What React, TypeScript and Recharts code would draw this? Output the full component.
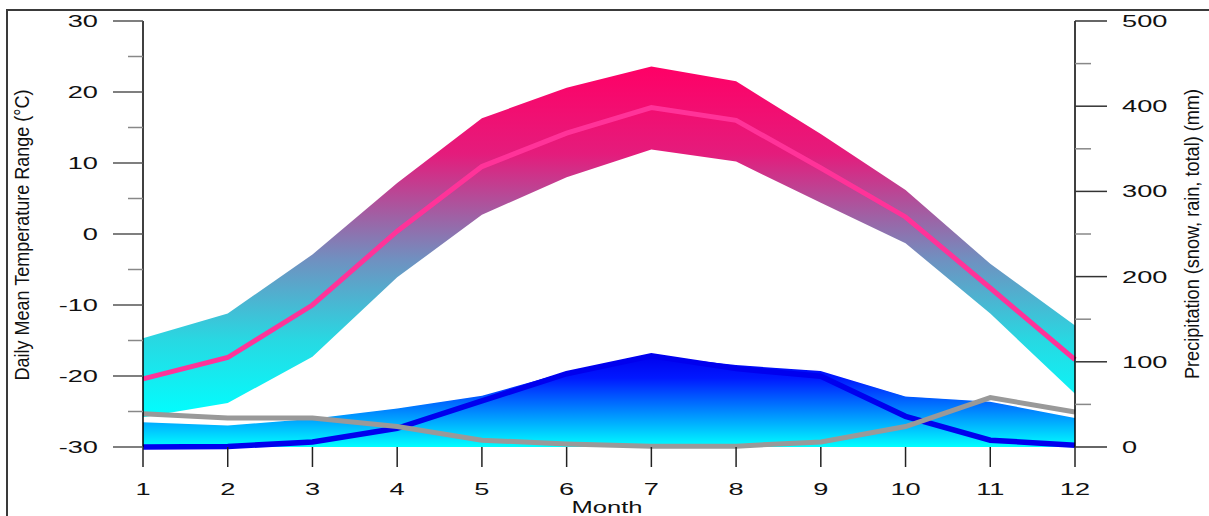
import { Area, ComposedChart, Label, Line, XAxis, YAxis } from "recharts";

const months = [1, 2, 3, 4, 5, 6, 7, 8, 9, 10, 11, 12];
const tempMax = [-14.7, -11.2, -2.9, 7.2, 16.3, 20.6, 23.6, 21.5, 14.1, 6.2, -4.2, -12.9];
const tempMin = [-25.8, -23.8, -17.3, -6.1, 2.7, 8.0, 11.9, 10.2, 4.4, -1.3, -11.2, -22.5];
const tempMean = [-20.4, -17.4, -10.0, 0.4, 9.5, 14.2, 17.8, 16.0, 9.3, 2.4, -7.6, -17.7];
const precipTotal = [30, 26, 34, 46, 61, 89, 108, 97, 90, 60, 54, 35];
const precipRain = [0, 0.5, 6, 22, 54, 86, 107, 92, 83, 36, 8, 2];
const precipSnow = [39, 34, 34, 24, 8, 3.5, 1, 1, 6, 24, 58, 41];

const tempTicks = [-30, -25, -20, -15, -10, -5, 0, 5, 10, 15, 20, 25, 30];
const precipTicks = [0, 50, 100, 150, 200, 250, 300, 350, 400, 450, 500];

const data = months.map((m, i) => ({
  month: m,
  tRange: [tempMin[i], tempMax[i]],
  tMean: tempMean[i],
  total: precipTotal[i],
  rain: precipRain[i],
  snow: precipSnow[i],
}));

const FONT = "'Liberation Sans', Arial, Helvetica, sans-serif";
const STRETCH = 1.65;

function WideText({ x, y, anchor, children }: any) {
  return (
    <g transform={`translate(${x},${y})`}>
      <text transform={`scale(${STRETCH},1)`} textAnchor={anchor} dy="0.36em" fontSize={16.5} fill="#111" fontFamily={FONT}>
        {children}
      </text>
    </g>
  );
}

function LeftTick(props: any) {
  const { x, y, payload } = props;
  const major = payload.value % 10 === 0;
  return (
    <g>
      <line x1={x - (major ? 30 : 15)} x2={x} y1={y} y2={y} stroke={major ? "#555" : "#888"} strokeWidth={1.5} />
      {major && <WideText x={x - 45} y={y} anchor="end">{payload.value}</WideText>}
    </g>
  );
}

function RightTick(props: any) {
  const { x, y, payload } = props;
  const major = payload.value % 100 === 0;
  return (
    <g>
      <line x1={x} x2={x + (major ? 32 : 16)} y1={y} y2={y} stroke={major ? "#333" : "#888"} strokeWidth={1.5} />
      {major && <WideText x={x + 47} y={y} anchor="start">{payload.value}</WideText>}
    </g>
  );
}

function MonthTick(props: any) {
  const { x, y, payload } = props;
  return (
    <g>
      <line x1={x} x2={x} y1={y} y2={y + 20} stroke="#222" strokeWidth={1.5} />
      <WideText x={x} y={y + 42} anchor="middle">{payload.value}</WideText>
    </g>
  );
}

export default function App() {
  return (
    <div style={{ position: "absolute", left: 0, top: 0, width: 1209, height: 516, overflow: "hidden", background: "#fff" }}>
      <div style={{ position: "absolute", left: 6, top: 9, width: 1400, height: 700, border: "2px solid #3a3a3a" }} />
      <div style={{ position: "absolute", left: 0, top: 0 }}>
        <ComposedChart width={1209} height={516} data={data} margin={{ top: 21, right: 34, bottom: 29, left: 43 }}>
          <defs>
            <linearGradient id="tempGrad" x1="0" y1="0" x2="0" y2="1">
              <stop offset="0" stopColor="#FF0066" />
              <stop offset="0.25" stopColor="#E41C7C" />
              <stop offset="0.55" stopColor="#7090C0" />
              <stop offset="0.78" stopColor="#28D8E2" />
              <stop offset="1" stopColor="#00FFFF" />
            </linearGradient>
            <linearGradient id="precipGrad" x1="0" y1="0" x2="0" y2="1">
              <stop offset="0" stopColor="#0000EE" />
              <stop offset="0.25" stopColor="#0018FF" />
              <stop offset="1" stopColor="#00FFFF" />
            </linearGradient>
          </defs>
          <XAxis
            dataKey="month"
            type="number"
            domain={[1, 12]}
            ticks={months}
            interval={0}
            height={40}
            axisLine={false}
            tickLine={false}
            tickSize={0}
            tickMargin={0}
            tick={<MonthTick />}
          >
            <Label
              content={({ viewBox }: any) => (
                <text
                  x={viewBox.x + viewBox.width / 2 - 2}
                  y={513}
                  textAnchor="middle"
                  fontSize={16.5}
                  fill="#111"
                  fontFamily={FONT}
                  textLength={71}
                  lengthAdjust="spacingAndGlyphs"
                >
                  Month
                </text>
              )}
            />
          </XAxis>
          <YAxis
            yAxisId="t"
            orientation="left"
            domain={[-30, 30]}
            ticks={tempTicks}
            interval={0}
            width={100}
            axisLine={{ stroke: "#000", strokeWidth: 1.5 }}
            tickLine={false}
            tickSize={0}
            tickMargin={0}
            tick={<LeftTick />}
          >
            <Label
              content={({ viewBox }: any) => (
                <text
                  transform={`translate(28.5,${viewBox.y + viewBox.height / 2 + 1}) rotate(-90)`}
                  textAnchor="middle"
                  fontSize={21}
                  fill="#111"
                  fontFamily={FONT}
                  textLength={291}
                  lengthAdjust="spacingAndGlyphs"
                >
                  Daily Mean Temperature Range (°C)
                </text>
              )}
            />
          </YAxis>
          <YAxis
            yAxisId="p"
            orientation="right"
            domain={[0, 500]}
            ticks={precipTicks}
            interval={0}
            width={100}
            axisLine={{ stroke: "#000", strokeWidth: 1.5 }}
            tickLine={false}
            tickSize={0}
            tickMargin={0}
            tick={<RightTick />}
          >
            <Label
              content={({ viewBox }: any) => (
                <text
                  transform={`translate(1199,${viewBox.y + viewBox.height / 2}) rotate(-90)`}
                  textAnchor="middle"
                  fontSize={21}
                  fill="#111"
                  fontFamily={FONT}
                  textLength={290}
                  lengthAdjust="spacingAndGlyphs"
                >
                  Precipitation (snow, rain, total) (mm)
                </text>
              )}
            />
          </YAxis>

          <Area
            yAxisId="t"
            type="linear"
            dataKey="tRange"
            stroke="none"
            fill="url(#tempGrad)"
            fillOpacity={1}
            dot={false}
            activeDot={false}
            isAnimationActive={false}
          />
          <Area
            yAxisId="p"
            type="linear"
            dataKey="total"
            stroke="#ffffff"
            strokeWidth={1.5}
            fill="url(#precipGrad)"
            fillOpacity={1}
            dot={false}
            activeDot={false}
            isAnimationActive={false}
          />
          <Line yAxisId="t" type="linear" dataKey="tMean" stroke="#FF3399" strokeWidth={5} dot={false} activeDot={false} isAnimationActive={false} />
          <Line yAxisId="p" type="linear" dataKey="rain" stroke="#0000EE" strokeWidth={5.5} dot={false} activeDot={false} isAnimationActive={false} />
          <Line yAxisId="p" type="linear" dataKey="snow" stroke="#999999" strokeWidth={5} dot={false} activeDot={false} isAnimationActive={false} />
        </ComposedChart>
      </div>
    </div>
  );
}
